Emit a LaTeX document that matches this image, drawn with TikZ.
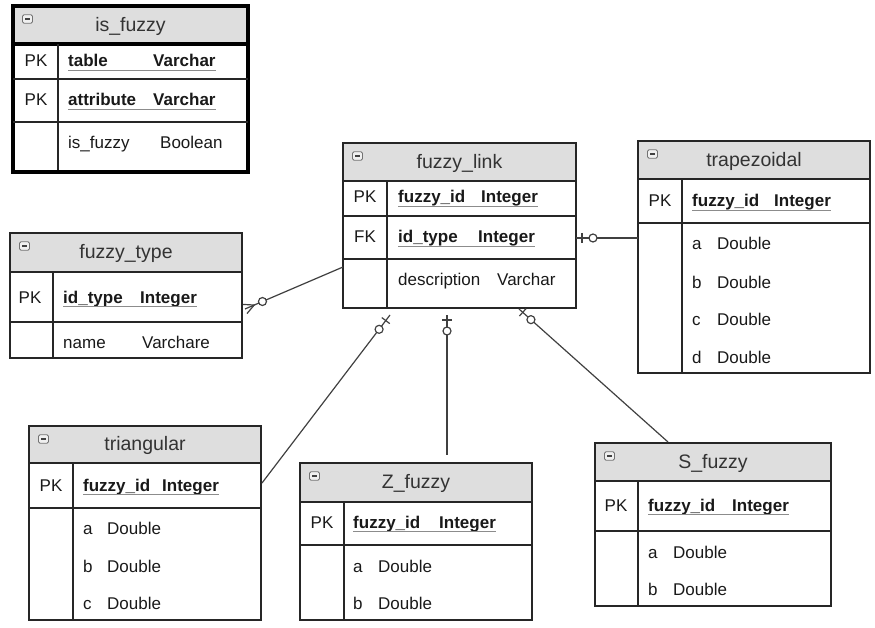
\documentclass[tikz,border=0pt]{standalone}
\usepackage{fontspec}
\setmainfont{Liberation Sans}
\usetikzlibrary{calc,fit}

% table frame: id, title, x1, y1, x2, y2, header bottom, key column x, frame style
\newcommand\ertable[9]{%
  \fill[hdr] (#3,#4) rectangle (#5,#7);
  \draw[rule,#9] (#3,#7) -- (#5,#7);
  \draw[rule] (#8,#7) -- (#8,#6);
  \node[tblbox,#9, fit={(#3,#4) (#5,#6)}] (#1) {};
  \node[ttl] (#1-title) at ({(#3+#5)/2},{(#4+#7)/2+1}) {#2};
  \node[collapse] (#1-icon) at ({#3+14.5},{#4+13}) {};
}
% relationship end markers
\newcommand\onebar[3]{%
  \coordinate (mk) at ($(#1)!#3!(#2)$);
  \draw[conn] ($(mk)!5pt!90:(#2)$) -- ($(mk)!5pt!-90:(#2)$);}
\newcommand\zerocirc[3]{%
  \draw[conn, fill=white] ($(#1)!#3!(#2)$) circle[radius=4pt];}
\newcommand\crowfoot[2]{%
  \coordinate (mk) at ($(#1)!10pt!(#2)$);
  \draw[conn] ($(#1)!5pt!90:(mk)$) -- (mk) -- ($(#1)!5pt!-90:(mk)$);}

\begin{document}
\begin{tikzpicture}[x=1pt,y=-1pt,
  hdr/.style={fill=black!13},
  tblbox/.style={draw=black!85, line width=1.3pt, inner sep=0pt, outer sep=0pt},
  rule/.style={draw=black!85, line width=1.3pt},
  heavy/.style={draw=black, line width=3.5pt},
  plain/.style={},
  ttl/.style={font=\fontsize{19.5}{20}\selectfont, text=black!80},
  ftxt/.style={anchor=base west, inner sep=0pt, font=\fontsize{17}{18}\selectfont, text=black!90},
  ktxt/.style={anchor=base west, inner sep=0pt, font=\fontsize{17}{18}\selectfont\bfseries, text=black!90},
  kw/.style={anchor=base, inner sep=0pt, font=\fontsize{17}{18}\selectfont, text=black!90},
  uline/.style={draw=black!45, line width=1.4pt},
  conn/.style={draw=black!75, line width=1.2pt},
  collapse/.style={draw=black!55, fill=black!6, rounded corners=1.5pt,
    minimum width=10pt, minimum height=8.5pt, inner sep=0pt, line width=0.8pt,
    path picture={\draw[black!75, line width=1.3pt]
      ([xshift=-2.5pt]path picture bounding box.center) --
      ([xshift=2.5pt]path picture bounding box.center);}}
]
\useasboundingbox (0,0) rectangle (875,628);

% ---------------- is_fuzzy ----------------
\ertable{isf}{is\_fuzzy}{13}{6}{248}{172}{44}{58}{heavy}
\draw[rule] (13,79) -- (248,79);
\draw[rule] (13,122) -- (248,122);
\node[kw]   (isf-k1) at (36,67)  {PK};
\node[ktxt] (isf-n1) at (68,67)  {table};
\node[ktxt] (isf-t1) at (153,67) {Varchar};
\node[kw]   (isf-k2) at (36,106) {PK};
\node[ktxt] (isf-n2) at (68,106) {attribute};
\node[ktxt] (isf-t2) at (153,106) {Varchar};
\node[ftxt] (isf-n3) at (68,149) {is\_fuzzy};
\node[ftxt] (isf-t3) at (160,149) {Boolean};
\draw[uline] ([yshift=-3.5pt]isf-n1.base west) -- ([yshift=-3.5pt]isf-t1.base east);
\draw[uline] ([yshift=-3.5pt]isf-n2.base west) -- ([yshift=-3.5pt]isf-t2.base east);

% ---------------- fuzzy_type ----------------
\ertable{ftype}{fuzzy\_type}{10}{233}{242}{358}{272}{53}{plain}
\draw[rule] (10,322) -- (242,322);
\node[kw]   (ftype-k1) at (30,303)  {PK};
\node[ktxt] (ftype-n1) at (63,303)  {id\_type};
\node[ktxt] (ftype-t1) at (140,303) {Integer};
\node[ftxt] (ftype-n2) at (63,348)  {name};
\node[ftxt] (ftype-t2) at (142,348) {Varchare};
\draw[uline] ([yshift=-3.5pt]ftype-n1.base west) -- ([yshift=-3.5pt]ftype-t1.base east);

% ---------------- fuzzy_link ----------------
\ertable{link}{fuzzy\_link}{343}{143}{576}{308}{181}{387}{plain}
\draw[rule] (343,216) -- (576,216);
\draw[rule] (343,259) -- (576,259);
\node[kw]   (link-k1) at (365,203) {PK};
\node[ktxt] (link-n1) at (398,203) {fuzzy\_id};
\node[ktxt] (link-t1) at (481,203) {Integer};
\node[kw]   (link-k2) at (365,243) {FK};
\node[ktxt] (link-n2) at (398,243) {id\_type};
\node[ktxt] (link-t2) at (478,243) {Integer};
\node[ftxt] (link-n3) at (398,285) {description};
\node[ftxt] (link-t3) at (497,285) {Varchar};
\draw[uline] ([yshift=-3.5pt]link-n1.base west) -- ([yshift=-3.5pt]link-t1.base east);
\draw[uline] ([yshift=-3.5pt]link-n2.base west) -- ([yshift=-3.5pt]link-t2.base east);

% ---------------- trapezoidal ----------------
\ertable{trap}{trapezoidal}{638}{141}{870}{373}{179}{682}{plain}
\draw[rule] (638,223) -- (870,223);
\node[kw]   (trap-k1) at (660,207) {PK};
\node[ktxt] (trap-n1) at (692,207) {fuzzy\_id};
\node[ktxt] (trap-t1) at (774,207) {Integer};
\draw[uline] ([yshift=-3.5pt]trap-n1.base west) -- ([yshift=-3.5pt]trap-t1.base east);
\node[ftxt] (trap-na) at (692,250) {a};
\node[ftxt] (trap-ta) at (717,250) {Double};
\node[ftxt] (trap-nb) at (692,288) {b};
\node[ftxt] (trap-tb) at (717,288) {Double};
\node[ftxt] (trap-nc) at (692,325) {c};
\node[ftxt] (trap-tc) at (717,325) {Double};
\node[ftxt] (trap-nd) at (692,363) {d};
\node[ftxt] (trap-td) at (717,363) {Double};

% ---------------- triangular ----------------
\ertable{tri}{triangular}{29}{426}{261}{620}{463}{73}{plain}
\draw[rule] (29,508) -- (261,508);
\node[kw]   (tri-k1) at (51,491)  {PK};
\node[ktxt] (tri-n1) at (83,491)  {fuzzy\_id};
\node[ktxt] (tri-t1) at (162,491) {Integer};
\draw[uline] ([yshift=-3.5pt]tri-n1.base west) -- ([yshift=-3.5pt]tri-t1.base east);
\node[ftxt] (tri-na) at (83,534)  {a};
\node[ftxt] (tri-ta) at (107,534) {Double};
\node[ftxt] (tri-nb) at (83,572)  {b};
\node[ftxt] (tri-tb) at (107,572) {Double};
\node[ftxt] (tri-nc) at (83,609)  {c};
\node[ftxt] (tri-tc) at (107,609) {Double};

% ---------------- Z_fuzzy ----------------
\ertable{zf}{Z\_fuzzy}{300}{463}{532}{620}{502}{344}{plain}
\draw[rule] (300,545) -- (532,545);
\node[kw]   (zf-k1) at (322,528) {PK};
\node[ktxt] (zf-n1) at (353,528) {fuzzy\_id};
\node[ktxt] (zf-t1) at (439,528) {Integer};
\draw[uline] ([yshift=-3.5pt]zf-n1.base west) -- ([yshift=-3.5pt]zf-t1.base east);
\node[ftxt] (zf-na) at (353,572) {a};
\node[ftxt] (zf-ta) at (378,572) {Double};
\node[ftxt] (zf-nb) at (353,609) {b};
\node[ftxt] (zf-tb) at (378,609) {Double};

% ---------------- S_fuzzy ----------------
\ertable{sf}{S\_fuzzy}{595}{443}{831}{606}{481}{638}{plain}
\draw[rule] (595,531) -- (831,531);
\node[kw]   (sf-k1) at (616,511) {PK};
\node[ktxt] (sf-n1) at (648,511) {fuzzy\_id};
\node[ktxt] (sf-t1) at (732,511) {Integer};
\draw[uline] ([yshift=-3.5pt]sf-n1.base west) -- ([yshift=-3.5pt]sf-t1.base east);
\node[ftxt] (sf-na) at (648,558) {a};
\node[ftxt] (sf-ta) at (673,558) {Double};
\node[ftxt] (sf-nb) at (648,595) {b};
\node[ftxt] (sf-tb) at (673,595) {Double};

% ---------------- relationships ----------------
\coordinate (e1a) at ([yshift=-41.5pt]link.west);
\coordinate (e1b) at ([xshift=3pt,yshift=-13.5pt]ftype.east);
\draw[conn] (e1a) -- (e1b);
\crowfoot{e1b}{e1a}
\zerocirc{e1b}{e1a}{19pt}

\coordinate (e2a) at ([yshift=-12.5pt]link.east);
\coordinate (e2b) at (e2a -| trap.west);
\draw[conn] (e2a) -- (e2b);
\onebar{e2a}{e2b}{6pt}
\zerocirc{e2a}{e2b}{17pt}

\coordinate (e3a) at ([xshift=-69.5pt,yshift=-7pt]link.south);
\coordinate (e3b) at ([xshift=1pt,yshift=40pt]tri.east);
\draw[conn] (e3a) -- (e3b);
\onebar{e3a}{e3b}{7pt}
\zerocirc{e3a}{e3b}{18pt}

\coordinate (e4a) at ([xshift=-12.5pt,yshift=-7pt]link.south);
\coordinate (e4b) at (e4a |- zf.north);
\draw[conn, shorten >=8pt] (e4a) -- (e4b);
\onebar{e4a}{e4b}{5pt}
\zerocirc{e4a}{e4b}{16pt}

\coordinate (e5a) at ([xshift=59.5pt,yshift=-1pt]link.south);
\coordinate (e5b) at ([xshift=-45pt,yshift=1pt]sf.north);
\draw[conn] (e5a) -- (e5b);
\onebar{e5a}{e5b}{5pt}
\zerocirc{e5a}{e5b}{16pt}
\end{tikzpicture}
\end{document}
